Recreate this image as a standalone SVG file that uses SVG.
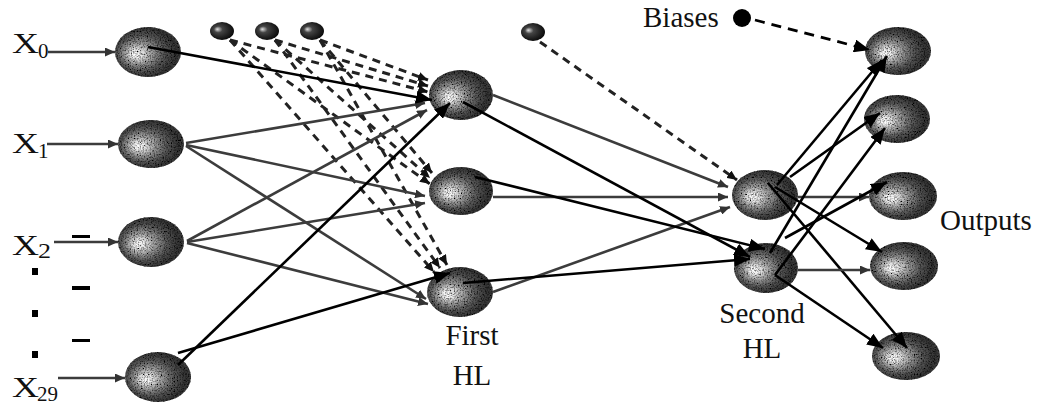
<svg xmlns="http://www.w3.org/2000/svg" width="1047" height="408" viewBox="0 0 1047 408">
  <style>
    text { font-family: 'Liberation Serif', 'Times New Roman', serif; fill: #111; }
    .gray { stroke: #3c3c3c; stroke-width: 2.6; fill: none; marker-end: url(#ahs); }
    .blk { stroke: #000; stroke-width: 2.6; fill: none; marker-end: url(#ah); }
    .dsh { stroke: #222; stroke-width: 3; fill: none; stroke-dasharray: 8 6; marker-end: url(#ahd); }
    .bdsh { stroke: #000; stroke-width: 2.8; fill: none; stroke-dasharray: 10 7; marker-end: url(#ah); }
    .node { fill: url(#ball); filter: url(#grain); }
    .bias { fill: url(#blob); }
  </style>
  <defs>
    <radialGradient id="ball" cx="0.45" cy="0.5" r="0.58" fx="0.3" fy="0.55">
      <stop offset="0" stop-color="#ffffff"/>
      <stop offset="0.12" stop-color="#f2f2f2"/>
      <stop offset="0.35" stop-color="#a0a0a0"/>
      <stop offset="0.6" stop-color="#5a5a5a"/>
      <stop offset="0.85" stop-color="#353535"/>
      <stop offset="1" stop-color="#444"/>
    </radialGradient>
    <radialGradient id="blob" cx="0.45" cy="0.45" r="0.6" fx="0.3" fy="0.4">
      <stop offset="0" stop-color="#e0e0e0"/>
      <stop offset="0.3" stop-color="#444"/>
      <stop offset="1" stop-color="#050505"/>
    </radialGradient>
    <!-- speckled surface for the neuron balls -->
    <filter id="grain" x="-10%" y="-10%" width="120%" height="120%">
      <feTurbulence type="fractalNoise" baseFrequency="0.7" numOctaves="2" seed="4" result="n"/>
      <feColorMatrix in="n" type="matrix" values="0 0 0 0 0  0 0 0 0 0  0 0 0 0 0  2.6 0 0 0 -1.05" result="na"/>
      <feComposite in="na" in2="SourceAlpha" operator="in" result="nm"/>
      <feMerge result="m"><feMergeNode in="SourceGraphic"/><feMergeNode in="nm"/></feMerge>
      <feGaussianBlur in="m" stdDeviation="0.7"/>
    </filter>
    <marker id="ah" markerUnits="userSpaceOnUse" markerWidth="17" markerHeight="13" refX="16" refY="6.5" orient="auto">
      <path d="M0,0 L16,6.5 L0,13 z" fill="#000"/>
    </marker>
    <marker id="ahs" markerUnits="userSpaceOnUse" markerWidth="11" markerHeight="9" refX="10" refY="4.5" orient="auto">
      <path d="M0,0 L10,4.5 L0,9 z" fill="#333"/>
    </marker>
    <marker id="ahd" markerUnits="userSpaceOnUse" markerWidth="11" markerHeight="9" refX="10" refY="4.5" orient="auto">
      <path d="M0,0 L10,4.5 L0,9 z" fill="#111"/>
    </marker>
  </defs>
  <rect width="1047" height="408" fill="#fff"/>

  <!-- input layer -->
  <g id="in0"><ellipse class="node" cx="148" cy="52" rx="33" ry="25"/></g>
  <g id="in1"><ellipse class="node" cx="151" cy="144" rx="33" ry="24"/></g>
  <g id="in2"><ellipse class="node" cx="151" cy="242" rx="33" ry="25"/></g>
  <g id="in29"><ellipse class="node" cx="158" cy="377" rx="33" ry="25"/></g>

  <!-- first hidden layer -->
  <g id="h1a"><ellipse class="node" cx="461" cy="95" rx="32" ry="25"/></g>
  <g id="h1b"><ellipse class="node" cx="461" cy="191" rx="32" ry="24"/></g>
  <g id="h1c"><ellipse class="node" cx="460" cy="292" rx="33" ry="25"/></g>

  <!-- second hidden layer -->
  <g id="h2a"><ellipse class="node" cx="765" cy="195" rx="33" ry="25"/></g>
  <g id="h2b"><ellipse class="node" cx="766" cy="268" rx="32" ry="25"/></g>

  <!-- output layer -->
  <g id="out1"><ellipse class="node" cx="898" cy="51" rx="33" ry="24"/></g>
  <g id="out2"><ellipse class="node" cx="897" cy="119" rx="33" ry="24"/></g>
  <g id="out3"><ellipse class="node" cx="903" cy="196" rx="34" ry="24"/></g>
  <g id="out4"><ellipse class="node" cx="904" cy="266" rx="34" ry="24"/></g>
  <g id="out5"><ellipse class="node" cx="906" cy="356" rx="34" ry="24"/></g>

  <!-- bias units -->
  <g id="bias1"><ellipse class="bias" cx="222" cy="31" rx="12" ry="9"/></g>
  <g id="bias2"><ellipse class="bias" cx="267" cy="31" rx="12" ry="9"/></g>
  <g id="bias3"><ellipse class="bias" cx="312" cy="31" rx="12" ry="9"/></g>
  <g id="bias4"><ellipse class="bias" cx="533" cy="32" rx="12" ry="9"/></g>
  <g id="biasKey"><circle cx="742" cy="18" r="9" fill="#000"/></g>

  <g id="connectors">
    <!-- external inputs -->
    <line class="gray" x1="48" y1="52" x2="115" y2="52"/>
    <line class="gray" x1="47" y1="144" x2="118" y2="144"/>
    <line class="gray" x1="54" y1="242" x2="118" y2="242"/>
    <line class="gray" x1="58" y1="378" x2="125" y2="378"/>

    <!-- bias to first hidden layer -->
    <line class="dsh" x1="230" y1="40" x2="428" y2="92"/>
    <line class="dsh" x1="275" y1="40" x2="428" y2="86"/>
    <line class="dsh" x1="320" y1="40" x2="428" y2="80"/>
    <line class="dsh" x1="230" y1="40" x2="430" y2="184"/>
    <line class="dsh" x1="275" y1="40" x2="430" y2="178"/>
    <line class="dsh" x1="320" y1="40" x2="432" y2="173"/>
    <line class="dsh" x1="230" y1="40" x2="434" y2="272"/>
    <line class="dsh" x1="275" y1="40" x2="440" y2="268"/>
    <line class="dsh" x1="320" y1="40" x2="447" y2="265"/>

    <!-- inputs to first hidden layer -->
    <line class="gray" x1="186" y1="143" x2="425" y2="103"/>
    <line class="gray" x1="186" y1="145" x2="425" y2="196"/>
    <line class="gray" x1="186" y1="146" x2="426" y2="299"/>
    <line class="gray" x1="187" y1="241" x2="427" y2="110"/>
    <line class="gray" x1="187" y1="242" x2="425" y2="203"/>
    <line class="gray" x1="187" y1="243" x2="428" y2="304"/>
    <line class="blk" x1="148" y1="47" x2="432" y2="100"/>
    <line class="blk" x1="178" y1="365" x2="450" y2="103"/>
    <line class="blk" x1="178" y1="353" x2="450" y2="273"/>

    <!-- first to second hidden layer -->
    <line class="dsh" x1="540" y1="42" x2="737" y2="180"/>
    <line class="gray" x1="493" y1="95" x2="728" y2="187"/>
    <line class="gray" x1="493" y1="197" x2="728" y2="197"/>
    <line class="gray" x1="493" y1="292" x2="730" y2="207"/>
    <line class="blk" x1="463" y1="102" x2="750" y2="257"/>
    <line class="blk" x1="475" y1="177" x2="765" y2="249"/>
    <line class="blk" x1="463" y1="283" x2="750" y2="259"/>

    <!-- second hidden layer to outputs -->
    <line class="bdsh" x1="755" y1="20" x2="870" y2="50"/>
    <line class="blk" x1="777" y1="185" x2="882" y2="60"/>
    <line class="blk" x1="790" y1="177" x2="880" y2="113"/>
    <line class="gray" x1="798" y1="197" x2="869" y2="197"/>
    <line class="blk" x1="775" y1="187" x2="882" y2="252"/>
    <line class="blk" x1="768" y1="183" x2="907" y2="348"/>
    <line class="blk" x1="770" y1="253" x2="887" y2="56"/>
    <line class="blk" x1="775" y1="275" x2="885" y2="128"/>
    <line class="blk" x1="785" y1="238" x2="887" y2="182"/>
    <line class="gray" x1="798" y1="270" x2="870" y2="270"/>
    <line class="blk" x1="775" y1="275" x2="883" y2="348"/>
  </g>

  <!-- input labels -->
  <g id="labels" font-family="Liberation Serif, serif">
    <text x="12" y="53" font-size="30" textLength="27" lengthAdjust="spacingAndGlyphs">X</text>
    <text x="38" y="58" font-size="21">0</text>
    <text x="12" y="153" font-size="30" textLength="27" lengthAdjust="spacingAndGlyphs">X</text>
    <text x="38" y="158" font-size="21">1</text>
    <text x="12" y="255" font-size="30" textLength="27" lengthAdjust="spacingAndGlyphs">X</text>
    <text x="38" y="258" font-size="21" textLength="13" lengthAdjust="spacingAndGlyphs">2</text>
    <text x="12" y="397" font-size="30" textLength="27" lengthAdjust="spacingAndGlyphs">X</text>
    <text x="37" y="401" font-size="21" textLength="21" lengthAdjust="spacingAndGlyphs">29</text>

    <rect x="32" y="268" width="6" height="7" fill="#000"/>
    <rect x="32" y="310" width="6" height="7" fill="#000"/>
    <rect x="32" y="351" width="6" height="7" fill="#000"/>
    <rect x="72" y="235" width="18" height="3" fill="#000"/>
    <rect x="72" y="286" width="18" height="4" fill="#000"/>
    <rect x="72" y="339" width="18" height="3" fill="#000"/>

    <text x="472" y="345" font-size="29" text-anchor="middle">First</text>
    <text x="472" y="385" font-size="29" text-anchor="middle">HL</text>
    <text x="762" y="323" font-size="29" text-anchor="middle">Second</text>
    <text x="762" y="358" font-size="29" text-anchor="middle">HL</text>
    <text x="940" y="230" font-size="29">Outputs</text>
    <text x="643" y="27" font-size="29">Biases</text>
  </g>
</svg>
